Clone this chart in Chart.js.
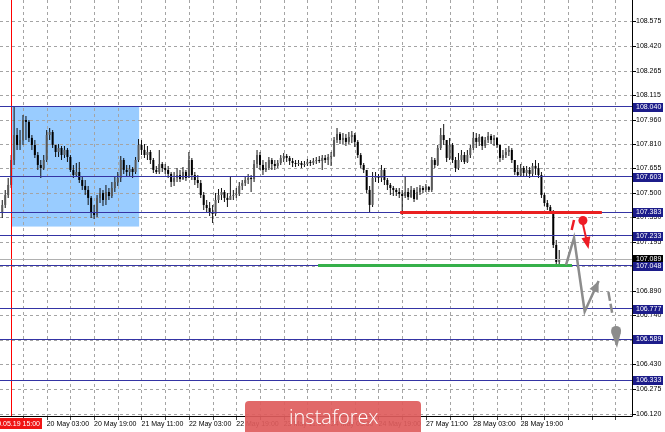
<!DOCTYPE html>
<html>
<head>
<meta charset="utf-8">
<script src="https://cdn.jsdelivr.net/npm/chart.js@4.4.1/dist/chart.umd.min.js"></script>
<style>
    html, body { margin: 0; padding: 0; background: #fff; }
    #wrap { width: 665px; height: 432px; }
</style>
</head>
<body>
<div id="wrap"><canvas id="chart" width="665" height="432"></canvas></div>
<script>
// USDJPY H1 candles, 19 May 15:00 .. 29 May (bar index 0 = first visible bar)
const FIRST_OPEN = 107.383;
const CLOSE = [
    107.427, 107.489, 107.552, 107.708, 107.864, 107.802, 107.833, 107.958, 107.946, 107.846,
    107.802, 107.739, 107.677, 107.658, 107.708, 107.864, 107.883, 107.802, 107.758, 107.783,
    107.739, 107.771, 107.727, 107.646, 107.614, 107.633, 107.583, 107.546, 107.521, 107.471,
    107.383, 107.364, 107.471, 107.502, 107.458, 107.508, 107.483, 107.533, 107.571, 107.596,
    107.708, 107.646, 107.633, 107.652, 107.633, 107.708, 107.802, 107.771, 107.739, 107.758,
    107.708, 107.646, 107.633, 107.683, 107.658, 107.646, 107.621, 107.571, 107.596, 107.614,
    107.589, 107.633, 107.596, 107.708, 107.614, 107.583, 107.564, 107.489, 107.427, 107.408,
    107.383, 107.371, 107.458, 107.489, 107.508, 107.471, 107.458, 107.483, 107.489, 107.496,
    107.546, 107.564, 107.583, 107.596, 107.589, 107.683, 107.739, 107.677, 107.646, 107.658,
    107.708, 107.683, 107.671, 107.689, 107.721, 107.733, 107.721, 107.702, 107.689, 107.683,
    107.689, 107.677, 107.683, 107.696, 107.689, 107.702, 107.708, 107.702, 107.721, 107.708,
    107.727, 107.733, 107.833, 107.871, 107.833, 107.846, 107.821, 107.852, 107.864, 107.821,
    107.739, 107.677, 107.646, 107.521, 107.427, 107.596, 107.608, 107.596, 107.646, 107.583,
    107.552, 107.533, 107.521, 107.508, 107.496, 107.483, 107.508, 107.477, 107.521, 107.464,
    107.508, 107.533, 107.521, 107.539, 107.521, 107.708, 107.677, 107.783, 107.864, 107.833,
    107.721, 107.802, 107.708, 107.658, 107.708, 107.739, 107.696, 107.739, 107.783, 107.846,
    107.821, 107.852, 107.796, 107.833, 107.858, 107.833, 107.846, 107.802, 107.721, 107.739,
    107.758, 107.771, 107.708, 107.633, 107.614, 107.658, 107.627, 107.646, 107.621, 107.671,
    107.658, 107.614, 107.489, 107.439, 107.414, 107.389, 107.177, 107.071, 107.089
];
const HIGH = [
    107.458, 107.521, 107.596, 107.739, 108.039, 107.908, 107.896, 107.989, 107.983, 107.958,
    107.864, 107.833, 107.758, 107.708, 107.739, 107.896, 107.908, 107.896, 107.802, 107.808,
    107.796, 107.796, 107.783, 107.739, 107.677, 107.689, 107.696, 107.608, 107.583, 107.546,
    107.483, 107.427, 107.489, 107.533, 107.521, 107.552, 107.533, 107.571, 107.608, 107.633,
    107.733, 107.721, 107.677, 107.677, 107.664, 107.727, 107.839, 107.833, 107.808, 107.796,
    107.771, 107.721, 107.671, 107.771, 107.696, 107.683, 107.671, 107.633, 107.633, 107.658,
    107.646, 107.664, 107.646, 107.758, 107.721, 107.633, 107.614, 107.583, 107.508, 107.458,
    107.446, 107.427, 107.502, 107.527, 107.533, 107.521, 107.502, 107.602, 107.521, 107.533,
    107.571, 107.583, 107.608, 107.621, 107.614, 107.708, 107.771, 107.758, 107.708, 107.696,
    107.727, 107.721, 107.708, 107.708, 107.739, 107.752, 107.746, 107.733, 107.721, 107.708,
    107.708, 107.702, 107.702, 107.714, 107.708, 107.721, 107.727, 107.733, 107.739, 107.739,
    107.746, 107.758, 107.852, 107.908, 107.883, 107.877, 107.871, 107.883, 107.889, 107.877,
    107.833, 107.752, 107.689, 107.646, 107.546, 107.633, 107.633, 107.621, 107.677, 107.658,
    107.596, 107.564, 107.546, 107.533, 107.533, 107.521, 107.602, 107.533, 107.546, 107.533,
    107.539, 107.552, 107.546, 107.558, 107.546, 107.727, 107.721, 107.802, 107.908, 107.933,
    107.833, 107.846, 107.814, 107.727, 107.752, 107.771, 107.758, 107.771, 107.802, 107.883,
    107.877, 107.871, 107.858, 107.852, 107.883, 107.871, 107.864, 107.852, 107.802, 107.771,
    107.783, 107.796, 107.783, 107.708, 107.677, 107.683, 107.671, 107.671, 107.664, 107.689,
    107.708, 107.689, 107.633, 107.502, 107.458, 107.427, 107.396, 107.208, 107.146
];
const LOW = [
    107.346, 107.408, 107.471, 107.533, 107.677, 107.771, 107.771, 107.802, 107.833, 107.821,
    107.771, 107.721, 107.646, 107.596, 107.646, 107.696, 107.833, 107.783, 107.727, 107.727,
    107.708, 107.721, 107.696, 107.633, 107.596, 107.608, 107.564, 107.521, 107.489, 107.427,
    107.346, 107.339, 107.352, 107.439, 107.421, 107.427, 107.458, 107.471, 107.508, 107.546,
    107.571, 107.621, 107.608, 107.608, 107.596, 107.621, 107.696, 107.739, 107.721, 107.708,
    107.683, 107.627, 107.621, 107.621, 107.633, 107.621, 107.596, 107.539, 107.546, 107.571,
    107.571, 107.583, 107.577, 107.596, 107.583, 107.552, 107.533, 107.471, 107.396, 107.383,
    107.358, 107.314, 107.358, 107.439, 107.458, 107.446, 107.414, 107.458, 107.458, 107.471,
    107.483, 107.521, 107.546, 107.558, 107.508, 107.571, 107.658, 107.646, 107.614, 107.633,
    107.646, 107.646, 107.646, 107.658, 107.677, 107.696, 107.696, 107.677, 107.664, 107.664,
    107.671, 107.658, 107.664, 107.671, 107.671, 107.677, 107.683, 107.689, 107.646, 107.689,
    107.677, 107.671, 107.727, 107.814, 107.808, 107.808, 107.796, 107.808, 107.814, 107.789,
    107.721, 107.658, 107.627, 107.502, 107.383, 107.414, 107.571, 107.564, 107.571, 107.552,
    107.521, 107.489, 107.483, 107.483, 107.471, 107.364, 107.471, 107.458, 107.471, 107.446,
    107.458, 107.489, 107.502, 107.508, 107.508, 107.508, 107.658, 107.671, 107.771, 107.802,
    107.696, 107.708, 107.689, 107.633, 107.646, 107.696, 107.683, 107.689, 107.721, 107.771,
    107.783, 107.796, 107.771, 107.783, 107.814, 107.808, 107.796, 107.783, 107.696, 107.708,
    107.721, 107.733, 107.689, 107.614, 107.602, 107.608, 107.602, 107.602, 107.596, 107.608,
    107.614, 107.596, 107.471, 107.421, 107.396, 107.371, 107.158, 107.052, 107.052
];
const OPEN = CLOSE.map((c, i) => i === 0 ? FIRST_OPEN : CLOSE[i - 1]);

// axes
const X_MIN = -0.763;
const X_MAX = 212.57;
const Y_MIN = 106.108;
const Y_MAX = 108.708;
const Y_TICKS = [106.120, 106.275, 106.430, 106.585, 106.740, 106.890, 107.045, 107.195, 107.350,
    107.500, 107.655, 107.810, 107.960, 108.115, 108.265, 108.420, 108.575];
const GRID_BARS = [7, 15, 23, 31, 39, 47, 55, 63, 71, 79, 87, 95, 103, 111, 119, 127, 135, 143,
    151, 159, 167, 175, 183, 191, 199, 207];
const TIME_BARS = [15, 31, 47, 63, 79, 95, 111, 127, 143, 159, 175];
const TIME_LABELS = ["20 May 03:00", "20 May 19:00", "21 May 11:00", "22 May 03:00", "22 May 19:00",
    "23 May 11:00", "24 May 03:00", "24 May 19:00", "27 May 11:00", "28 May 03:00", "28 May 19:00"];
const MARKER_BAR = 3;
const MARKER_LABEL = "2019.05.19 15:00";

// drawn objects (bar index / price)
const LEVELS = [108.040, 107.603, 107.383, 107.233, 107.048, 106.777, 106.589, 106.333];
const BID = 107.089;
const ZONE = { from: 3, to: 46.2, top: 108.040, bottom: 107.292 };
const RESIST = { from: 134.3, to: 202.4, price: 107.383 };
const SUPPORT = { from: 106.6, to: 192.3, price: 107.048 };
const PATH = [[190.3, 107.052], [193.0, 107.221], [196.6, 106.761], [201.3, 106.952]];
const RED_SLASH = [[193.0, 107.333], [192.2, 107.270]];
const RED_DOT = [196.0, 107.330];
const RED_ARROW = [[196.0, 107.308], [197.9, 107.152]];
const GRAY_DASH = [[204.6, 106.883], [206.0, 106.739]];
const GRAY_DROP = { center: [207.2, 106.640], tip: [207.5, 106.533] };

const BULL = "#5a5a5a";
const BEAR = "#000000";
const GRID = "#a4a4a4";
const FONT = "'Liberation Sans', Arial, sans-serif";

const px = (chart, v) => chart.scales.x.getPixelForValue(v);
const py = (chart, v) => chart.scales.y.getPixelForValue(v);

function arrowHead(ctx, x1, y1, x2, y2, len, half) {
    const a = Math.atan2(y2 - y1, x2 - x1);
    const bx = x2 - len * Math.cos(a), by = y2 - len * Math.sin(a);
    ctx.beginPath();
    ctx.moveTo(x2, y2);
    ctx.lineTo(bx + half * Math.sin(a), by - half * Math.cos(a));
    ctx.lineTo(bx - half * Math.sin(a), by + half * Math.cos(a));
    ctx.closePath();
    ctx.fill();
}

function hLine(chart, from, to, price, color, width) {
    const ctx = chart.ctx;
    let y = py(chart, price);
    if (width % 2 === 1) y = Math.round(y - 0.5) + 0.5;
    ctx.strokeStyle = color;
    ctx.lineWidth = width;
    ctx.beginPath();
    ctx.moveTo(px(chart, from), y);
    ctx.lineTo(px(chart, to), y);
    ctx.stroke();
}

function seg(ctx, x1, y1, x2, y2) {
    ctx.beginPath();
    ctx.moveTo(x1, y1);
    ctx.lineTo(x2, y2);
    ctx.stroke();
}

function priceBox(chart, price, bg) {
    const ctx = chart.ctx;
    const y = Math.round(py(chart, price));
    ctx.fillStyle = bg;
    ctx.fillRect(633, y - 4, 30, 9);
    ctx.fillStyle = "#fff";
    ctx.font = "7px " + FONT;
    ctx.textBaseline = "middle";
    ctx.textAlign = "left";
    ctx.fillText(price.toFixed(3), 636, y + 0.5);
}

// dotted grid at the tick values (pixel dashes, 3 on / 3 off), placed by the scales
function drawGrid(chart) {
    const ctx = chart.ctx;
    const a = chart.chartArea;
    const ys = Y_TICKS.map(v => Math.round(py(chart, v)));
    const xs = GRID_BARS.map(v => Math.round(px(chart, v)));
    ctx.fillStyle = GRID;
    ys.forEach(y => {
        for (let x = a.left; x < a.right; x += 6) ctx.fillRect(x, y, 3, 1);
    });
    xs.forEach(x => {
        for (let y = a.top; y < a.bottom; y += 6) ctx.fillRect(x, y, 1, 3);
    });
    ctx.fillStyle = "#000";
    ys.forEach(y => ctx.fillRect(a.right, y, 4, 1));
    ctx.fillStyle = "#444";
    xs.forEach(x => ctx.fillRect(x, a.bottom, 1, 4));
}

const background = {
    id: "background",
    beforeDatasetsDraw(chart) {
        const ctx = chart.ctx;
        ctx.save();
        const x1 = px(chart, ZONE.from), x2 = px(chart, ZONE.to);
        const y1 = py(chart, ZONE.top), y2 = py(chart, ZONE.bottom);
        ctx.fillStyle = "#99ccff";
        ctx.fillRect(x1, y1, x2 - x1, y2 - y1);
        drawGrid(chart);
        ctx.restore();
    }
};

const overlays = {
    id: "overlays",
    afterDatasetsDraw(chart) {
        const { ctx, chartArea: a } = chart;
        ctx.save();
        ctx.beginPath();
        ctx.rect(a.left, a.top, a.right - a.left, a.bottom - a.top);
        ctx.clip();

        // time marker
        const mx = Math.round(px(chart, MARKER_BAR)) + 0.5;
        ctx.strokeStyle = "#ff0000";
        ctx.lineWidth = 1;
        seg(ctx, mx, a.top, mx, a.bottom);

        hLine(chart, X_MIN, X_MAX, BID, "#b0b0b0", 1);
        LEVELS.forEach(l => hLine(chart, X_MIN, X_MAX, l, "#3434a4", 1));
        hLine(chart, RESIST.from, RESIST.to, RESIST.price, "#ea2020", 3);
        hLine(chart, SUPPORT.from, SUPPORT.to, SUPPORT.price, "#36b04a", 3);

        // forecast path
        const grey = "#8c8c8c";
        ctx.strokeStyle = grey;
        ctx.fillStyle = grey;
        ctx.lineWidth = 2.5;
        ctx.lineJoin = "miter";
        const pts = PATH.map(p => [px(chart, p[0]), py(chart, p[1])]);
        ctx.beginPath();
        pts.forEach((p, i) => i ? ctx.lineTo(p[0], p[1]) : ctx.moveTo(p[0], p[1]));
        const n = pts.length;
        ctx.stroke();
        arrowHead(ctx, pts[n - 2][0], pts[n - 2][1], pts[n - 1][0], pts[n - 1][1], 11, 5);

        // grey dashed continuation and drop
        ctx.setLineDash([9, 3]);
        seg(ctx, px(chart, GRAY_DASH[0][0]), py(chart, GRAY_DASH[0][1]),
            px(chart, GRAY_DASH[1][0]), py(chart, GRAY_DASH[1][1]));
        ctx.setLineDash([]);
        const cx = px(chart, GRAY_DROP.center[0]), cy = py(chart, GRAY_DROP.center[1]);
        const tx = px(chart, GRAY_DROP.tip[0]), ty = py(chart, GRAY_DROP.tip[1]);
        ctx.beginPath();
        ctx.arc(cx, cy, 5, 0, Math.PI * 2);
        ctx.fill();
        ctx.beginPath();
        ctx.moveTo(cx - 4.8, cy + 1.5);
        ctx.lineTo(cx + 4.8, cy + 1.5);
        ctx.lineTo(tx, ty);
        ctx.closePath();
        ctx.fill();

        // red signal
        const red = "#ee1c25";
        ctx.strokeStyle = red;
        ctx.fillStyle = red;
        ctx.lineWidth = 2.5;
        seg(ctx, px(chart, RED_SLASH[0][0]), py(chart, RED_SLASH[0][1]),
            px(chart, RED_SLASH[1][0]), py(chart, RED_SLASH[1][1]));
        ctx.beginPath();
        ctx.arc(px(chart, RED_DOT[0]), py(chart, RED_DOT[1]), 4.5, 0, Math.PI * 2);
        ctx.fill();
        const r1 = [px(chart, RED_ARROW[0][0]), py(chart, RED_ARROW[0][1])];
        const r2 = [px(chart, RED_ARROW[1][0]), py(chart, RED_ARROW[1][1])];
        ctx.lineWidth = 2;
        seg(ctx, r1[0], r1[1], r2[0] - (r2[0] - r1[0]) * 0.3, r2[1] - (r2[1] - r1[1]) * 0.3);
        arrowHead(ctx, r1[0], r1[1], r2[0], r2[1], 12, 4.5);
        ctx.restore();
    },
    afterDraw(chart) {
        const { ctx, chartArea: a } = chart;
        ctx.save();
        // solid frame of the price axis
        ctx.strokeStyle = "#000";
        ctx.lineWidth = 1;
        ctx.beginPath();
        ctx.moveTo(a.right + 0.5, 0);
        ctx.lineTo(a.right + 0.5, a.bottom + 0.5);
        ctx.lineTo(0, a.bottom + 0.5);
        ctx.stroke();

        // price labels of the drawn levels
        priceBox(chart, BID, "#000000");
        LEVELS.forEach(l => priceBox(chart, l, "#1c1c8a"));

        // time label of the marker line
        ctx.fillStyle = "#f01414";
        ctx.fillRect(0, 418, 42, 11);
        ctx.fillStyle = "#fff";
        ctx.font = "7px " + FONT;
        ctx.textAlign = "right";
        ctx.textBaseline = "middle";
        ctx.fillText(MARKER_LABEL, 40, 424);

        // watermark
        ctx.fillStyle = "rgba(222, 92, 92, 0.92)";
        ctx.beginPath();
        ctx.roundRect(245, 401, 176, 40, 4);
        ctx.fill();
        ctx.fillStyle = "#fff";
        ctx.font = "300 20px 'Open Sans', " + FONT;
        ctx.textAlign = "left";
        ctx.textBaseline = "alphabetic";
        ctx.fillText("instaforex", 289, 424);
        ctx.restore();
    }
};

const bodies = CLOSE.map((c, i) => ({ x: i, y: [OPEN[i], c] }));
const wicks = CLOSE.map((c, i) => ({ x: i, y: [LOW[i], HIGH[i]] }));

new Chart(document.getElementById("chart"), {
    type: "bar",
    data: {
        datasets: [
            {
                data: bodies,
                backgroundColor: ctx => CLOSE[ctx.dataIndex] > OPEN[ctx.dataIndex] ? BULL : BEAR,
                barThickness: 2,
                minBarLength: 1,
                grouped: false,
                inflateAmount: 0,
                order: 0
            },
            {
                data: wicks,
                backgroundColor: "#111",
                barThickness: 1,
                grouped: false,
                inflateAmount: 0,
                order: 1
            }
        ]
    },
    options: {
        responsive: false,
        animation: false,
        devicePixelRatio: 1,
        layout: { padding: 0 },
        plugins: { legend: { display: false }, tooltip: { enabled: false } },
        scales: {
            x: {
                type: "linear",
                min: X_MIN,
                max: X_MAX,
                offset: false,
                grid: { drawOnChartArea: false, offset: false, tickLength: 3, tickColor: "rgba(0,0,0,0)" },
                border: { display: false },
                ticks: {
                    autoSkip: false, maxRotation: 0, minRotation: 0, align: "start", padding: 1,
                    color: "#000", font: { family: FONT, size: 7 },
                    callback: v => {
                        const k = TIME_BARS.indexOf(v);
                        return k >= 0 ? TIME_LABELS[k] : "";
                    }
                },
                afterBuildTicks: s => { s.ticks = GRID_BARS.map(v => ({ value: v })); },
                afterFit: s => { s.height = 16; s.paddingLeft = 0; s.paddingRight = 0; }
            },
            y: {
                position: "right",
                min: Y_MIN,
                max: Y_MAX,
                grid: { drawOnChartArea: false, tickLength: 3, tickColor: "rgba(0,0,0,0)" },
                border: { display: false },
                ticks: {
                    autoSkip: false, padding: 1, color: "#000", font: { family: FONT, size: 7 },
                    callback: v => v.toFixed(3)
                },
                afterBuildTicks: s => { s.ticks = Y_TICKS.map(v => ({ value: v })); },
                afterFit: s => { s.width = 33; s.paddingTop = 0; s.paddingBottom = 0; }
            }
        }
    },
    plugins: [background, overlays]
});
</script>
</body>
</html>
